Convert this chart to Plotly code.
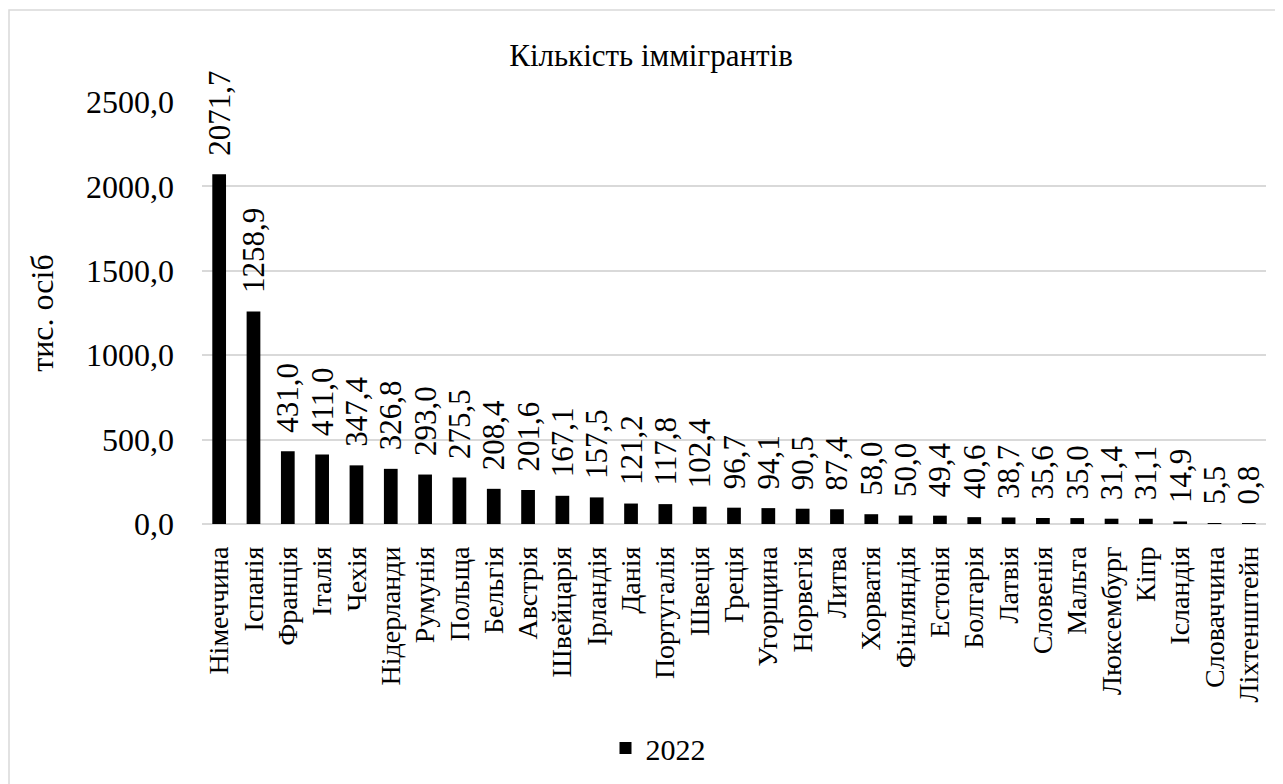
import plotly.graph_objects as go

countries = ["Німеччина", "Іспанія", "Франція", "Італія", "Чехія", "Нідерланди", "Румунія", "Польща",
             "Бельгія", "Австрія", "Швейцарія", "Ірландія", "Данія", "Португалія", "Швеція", "Греція",
             "Угорщина", "Норвегія", "Литва", "Хорватія", "Фінляндія", "Естонія", "Болгарія", "Латвія",
             "Словенія", "Мальта", "Люксембург", "Кіпр", "Ісландія", "Словаччина", "Ліхтенштейн"]
values_2022 = [2071.7, 1258.9, 431.0, 411.0, 347.4, 326.8, 293.0, 275.5,
               208.4, 201.6, 167.1, 157.5, 121.2, 117.8, 102.4, 96.7,
               94.1, 90.5, 87.4, 58.0, 50.0, 49.4, 40.6, 38.7,
               35.6, 35.0, 31.4, 31.1, 14.9, 5.5, 0.8]
y_ticks = [0, 500, 1000, 1500, 2000, 2500]
series_name = "2022"

FONT = "'Times New Roman', 'Liberation Serif', serif"
labels = ["\u00a0\u00a0" + f"{v:.1f}".replace(".", ",") for v in values_2022]

# figure is drawn at page offset (8, 8)
W, H = 1283, 784
L, T = 194, 94
PW, PH = 1064, 422
R, B = W - L - PW, H - T - PH

fig = go.Figure()
fig.add_trace(go.Bar(
    x=countries, y=values_2022, name=series_name,
    marker=dict(color="#000000", line=dict(width=0)),
    text=labels, textposition="outside", textangle=-90, constraintext="none",
    textfont=dict(family=FONT, size=31, color="#000000"),
    cliponaxis=False, width=0.4,
))

fig.update_layout(
    width=W, height=H,
    paper_bgcolor="#ffffff", plot_bgcolor="#ffffff",
    font=dict(family=FONT, color="#000000"),
    title=dict(text="Кількість іммігрантів", x=643 / W, xanchor="center", y=1 - 47 / H, yanchor="middle",
               font=dict(family=FONT, size=31, color="#000000")),
    margin=dict(l=L, r=R, t=T, b=B),
    separators=", ",
    showlegend=True,
    legend=dict(orientation="h", x=(650 - L) / PW, xanchor="center", y=(T + PH - 740) / PH, yanchor="middle",
                font=dict(family=FONT, size=30, color="#000000"), itemwidth=30),
    xaxis=dict(tickangle=-90, tickfont=dict(family=FONT, size=28, color="#000000"),
               showgrid=False, showline=False, ticks="", ticklabelstandoff=16),
    yaxis=dict(range=[0, 2500], tickvals=y_ticks, tickformat=".1f",
               tickfont=dict(family=FONT, size=32, color="#000000"),
               showgrid=True, gridcolor="#d9d9d9", gridwidth=1.5,
               zeroline=True, zerolinecolor="#d9d9d9", zerolinewidth=2,
               showline=False, ticks="", ticklabelstandoff=27,
               title=dict(text="тис. осіб", font=dict(family=FONT, size=32, color="#000000"), standoff=22)),
    bargap=0.6,
)

fig.add_shape(type="rect", xref="paper", yref="paper",
              x0=-(L - 1) / PW, x1=(W + 20 - L) / PW, y0=-(B + 20) / PH, y1=(T + PH - 2) / PH,
              line=dict(color="#d9d9d9", width=1.5), fillcolor="rgba(0,0,0,0)", layer="below")

fig.write_html("out.html")
